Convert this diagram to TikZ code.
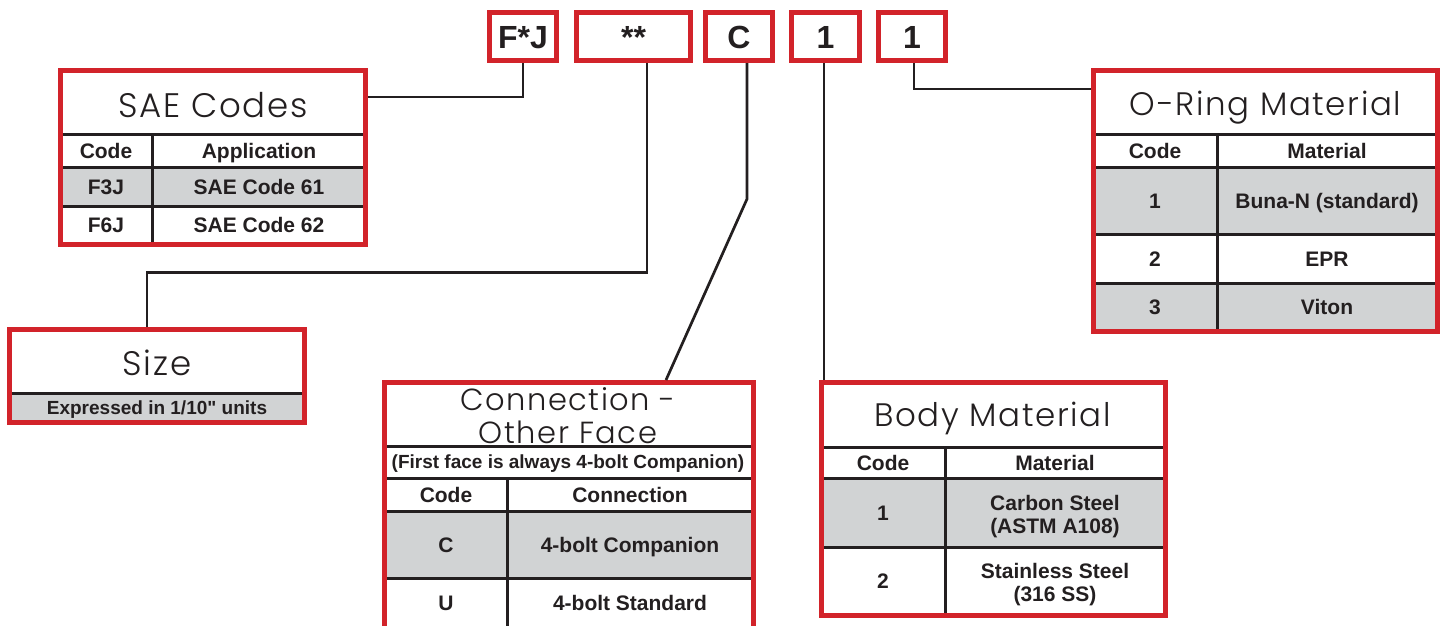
\documentclass[tikz,border=0pt]{standalone}
\usepackage{fontspec}
\newfontfamily\cellfont{Liberation Sans}
\newfontfamily\titlefont{Poppins Light}[LetterSpace=5]
\usetikzlibrary{fit}
\definecolor{keyred}{HTML}{D2232A}
\definecolor{ink}{HTML}{231F20}
\definecolor{rowgray}{HTML}{D1D3D4}
\tikzset{
  codebox/.style={draw=keyred, line width=5pt, inner sep=0pt, text=ink,
    minimum height=48pt, text height=23pt, text depth=0pt,
    font=\cellfont\fontsize{32}{36}\selectfont\bfseries},
  panel/.style={draw=keyred, line width=5pt, inner sep=0pt},
  rule/.style={draw=ink, line width=3pt},
  shade/.style={fill=rowgray},
  link/.style={draw=ink, line width=2.7pt},
  heading/.style={text=ink, align=center, inner sep=0pt, anchor=base},
  cell/.style={text=ink, align=center, inner sep=0pt, text height=15pt, text depth=0pt,
    font=\cellfont\fontsize{21}{23}\selectfont\bfseries},
  celltwo/.style={cell, text height=38pt},
  note/.style={cell, text height=13.6pt, font=\cellfont\fontsize{19}{21}\selectfont\bfseries}
}
\begin{document}
\begin{tikzpicture}[x=1pt, y=-1pt]
  \useasboundingbox[fill=white] (0,0) rectangle (1440,625);

  % part number boxes
  \node[codebox, minimum width=67pt] (fj) at (523,36.5) {F*J};
  \node[codebox, minimum width=114pt] (sz) at (633.5,36.5) {**};
  \node[codebox, minimum width=67pt] (cn) at (739,36.5) {C};
  \node[codebox, minimum width=68pt] (bm) at (825.5,36.5) {1};
  \node[codebox, minimum width=67pt] (om) at (912,36.5) {1};

  % SAE Codes
  \fill[shade] (60.5,167) rectangle (365.5,206);
  \draw[rule] (60.5,134) -- (365.5,134) (60.5,167) -- (365.5,167)
    (60.5,206) -- (365.5,206) (152,134) -- (152,244.5);
  \node[panel, fit={(60.5,70.5) (365.5,244.5)}] (sae) {};
  \node[heading, font=\titlefont\fontsize{34}{36}\selectfont] (saetitle) at (213,117) {SAE Codes};
  \node[cell] (saecode) at (106,150.5) {Code};
  \node[cell] (saeapp) at (259,150.5) {Application};
  \node[cell] (saea) at (106,186.5) {F3J};
  \node[cell] (saeb) at (259,186.5) {SAE Code 61};
  \node[cell] (saec) at (106,225) {F6J};
  \node[cell] (saed) at (259,225) {SAE Code 62};

  % Size
  \fill[shade] (9.5,393) rectangle (304.5,422.5);
  \draw[rule] (9.5,393) -- (304.5,393);
  \node[panel, fit={(9.5,329.5) (304.5,422.5)}] (size) {};
  \node[heading, font=\titlefont\fontsize{34}{36}\selectfont] (sizetitle) at (157,375) {Size};
  \node[note] (sizenote) at (157,408) {Expressed in 1/10" units};

  % Connection - Other Face
  \fill[shade] (384.5,511) rectangle (753.5,578);
  \draw[rule] (384.5,446) -- (753.5,446) (384.5,478) -- (753.5,478)
    (384.5,511) -- (753.5,511) (384.5,578) -- (753.5,578) (507,478) -- (507,640);
  \node[panel, fit={(384.5,382.5) (753.5,640)}] (conn) {};
  \node[heading, font=\titlefont\fontsize{30.5}{33}\selectfont] (conntitle) at (568,443) {Connection -\\Other Face};
  \node[note] (connnote) at (568,462) {(First face is always 4-bolt Companion)};
  \node[cell] (conncode) at (446,494.5) {Code};
  \node[cell] (connconn) at (630,494.5) {Connection};
  \node[cell] (conna) at (446,544.5) {C};
  \node[cell] (connb) at (630,544.5) {4-bolt Companion};
  \node[cell] (connc) at (446,602.5) {U};
  \node[cell] (connd) at (630,602.5) {4-bolt Standard};

  % Body Material
  \fill[shade] (821.5,478) rectangle (1165.5,547);
  \draw[rule] (821.5,447) -- (1165.5,447) (821.5,478) -- (1165.5,478)
    (821.5,547) -- (1165.5,547) (945,447) -- (945,615.5);
  \node[panel, fit={(821.5,382.5) (1165.5,615.5)}] (body) {};
  \node[heading, font=\titlefont\fontsize{32.5}{34}\selectfont] (bodytitle) at (992.5,426.5) {Body Material};
  \node[cell] (bodycode) at (883,462.5) {Code};
  \node[cell] (bodymat) at (1055,462.5) {Material};
  \node[cell] (bodya) at (883,512.5) {1};
  \node[celltwo] (bodyb) at (1055,514) {Carbon Steel\\(ASTM A108)};
  \node[cell] (bodyc) at (883,581) {2};
  \node[celltwo] (bodyd) at (1055,582) {Stainless Steel\\(316 SS)};

  % O-Ring Material
  \fill[shade] (1093.5,167) rectangle (1437.5,234) (1093.5,283) rectangle (1437.5,331.5);
  \draw[rule] (1093.5,134) -- (1437.5,134) (1093.5,167) -- (1437.5,167)
    (1093.5,234) -- (1437.5,234) (1093.5,283) -- (1437.5,283) (1217,134) -- (1217,331.5);
  \node[panel, fit={(1093.5,70.5) (1437.5,331.5)}] (oring) {};
  \node[heading, font=\titlefont\fontsize{32.5}{34}\selectfont] (oringtitle) at (1265.5,115) {O-Ring Material};
  \node[cell] (oringcode) at (1155,150.5) {Code};
  \node[cell] (oringmat) at (1327,150.5) {Material};
  \node[cell] (oringa) at (1155,200.5) {1};
  \node[cell] (oringb) at (1327,200.5) {Buna-N (standard)};
  \node[cell] (oringc) at (1155,258.5) {2};
  \node[cell] (oringd) at (1327,258.5) {EPR};
  \node[cell] (oringe) at (1155,307) {3};
  \node[cell] (oringf) at (1327,307) {Viton};

  % leaders
  \draw[link] (fj.south) |- (sae.east |- 0,97);
  \draw[link] ([xshift=13.5pt]sz.south) -- ++(0,209.5) -| ([xshift=-10pt]size.north);
  \draw[link] ([xshift=8pt]cn.south) -- ++(0,136) -- ([xshift=97pt]conn.north);
  \draw[link] ([xshift=-1.5pt]bm.south) -- ([xshift=-1.5pt]bm.south |- body.north);
  \draw[link] ([xshift=2pt]om.south) |- (oring.west |- 0,89);
\end{tikzpicture}
\end{document}
